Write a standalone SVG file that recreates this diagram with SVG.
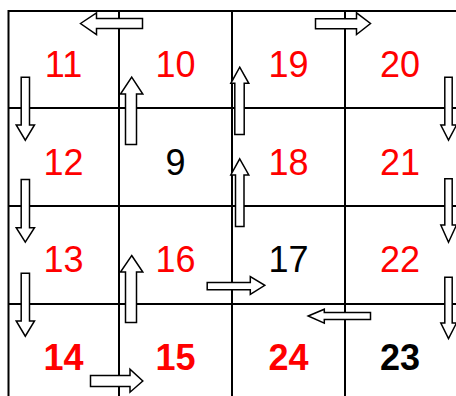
<svg xmlns="http://www.w3.org/2000/svg" width="456" height="396" viewBox="0 0 456 396">
<style>
.grid line{stroke:#000;stroke-width:2}
.n{font-family:"Liberation Sans",Arial,sans-serif;font-size:36px;text-anchor:middle}
.r{fill:#ff0000}
.k{fill:#000}
.b{font-weight:bold}
.arr polygon{fill:#fff;stroke:#000;stroke-width:1.5;stroke-linejoin:miter}
</style>
<rect width="456" height="396" fill="#fff"/>
<g class="grid" id="grid">
<line x1="8" y1="11" x2="456" y2="11"/>
<line x1="8" y1="108" x2="456" y2="108"/>
<line x1="8" y1="206" x2="456" y2="206"/>
<line x1="8" y1="304" x2="456" y2="304"/>
<line x1="8.5" y1="10" x2="8.5" y2="396"/>
<line x1="119" y1="10" x2="119" y2="396"/>
<line x1="232" y1="10" x2="232" y2="396"/>
<line x1="345" y1="10" x2="345" y2="396"/>
</g>
<g id="n11"><text class="n r" x="63.5" y="76.5">11</text></g>
<g id="n10"><text class="n r" x="175.5" y="76.5">10</text></g>
<g id="n19"><text class="n r" x="288.5" y="76.5">19</text></g>
<g id="n20"><text class="n r" x="400" y="76.5">20</text></g>
<g id="n12"><text class="n r" x="63.5" y="175">12</text></g>
<g id="n9"><text class="n k" x="175.5" y="175">9</text></g>
<g id="n18"><text class="n r" x="288.5" y="175">18</text></g>
<g id="n21"><text class="n r" x="400" y="175">21</text></g>
<g id="n13"><text class="n r" x="63.5" y="272">13</text></g>
<g id="n16"><text class="n r" x="175.5" y="272">16</text></g>
<g id="n17"><text class="n k" x="288.5" y="272">17</text></g>
<g id="n22"><text class="n r" x="400" y="272">22</text></g>
<g id="n14"><text class="n r b" x="63.5" y="370">14</text></g>
<g id="n15"><text class="n r b" x="175.5" y="370">15</text></g>
<g id="n24"><text class="n r b" x="288.5" y="370">24</text></g>
<g id="n23"><text class="n k b" x="400" y="370">23</text></g>
<g class="arr" id="connectors">
<polygon points="80.5,23.5 96.5,12.8 96.5,18.5 142.5,18.5 142.5,28.5 96.5,28.5 96.5,34.5"/>
<polygon points="315.5,18.8 356.5,18.8 356.5,12.8 370.5,23.5 356.5,34.5 356.5,28.8 315.5,28.8"/>
<polygon points="21.2,77.2 29.5,77.2 29.5,125 34.5,125 25.3,140.2 16.2,125 21.2,125"/>
<polygon points="21.2,179.5 29.5,179.5 29.5,227.7 34.5,227.7 25.3,242.2 16.2,227.7 21.2,227.7"/>
<polygon points="21.2,273.2 29.5,273.2 29.5,321 34.5,321 25.3,336.2 16.2,321 21.2,321"/>
<polygon points="444.8,77.2 452.2,77.2 452.2,125 456.5,125 448.5,140.2 440.8,125 444.8,125"/>
<polygon points="444.8,178.8 452.2,178.8 452.2,225 456.5,225 448.5,242.2 440.8,225 444.8,225"/>
<polygon points="444.8,277.2 452.2,277.2 452.2,323 456.5,323 448.5,338.5 440.8,323 444.8,323"/>
<polygon points="131.7,77.2 142.8,94 136.5,94 136.5,144.5 125.5,144.5 125.5,94 120.5,94"/>
<polygon points="131.7,255.5 142.8,272 136.5,272 136.5,322.5 125.5,322.5 125.5,272 120.5,272"/>
<polygon points="239.7,67.2 248.8,83.3 244.2,83.3 244.2,134.5 234.8,134.5 234.8,83.3 230.8,83.3"/>
<polygon points="239.7,158.8 248.8,175 244,175 244,226.5 235.5,226.5 235.5,175 230.8,175"/>
<polygon points="207.2,282.5 250.3,282.5 250.3,276.5 264.8,285.3 250.3,294.5 250.3,289.8 207.2,289.8"/>
<polygon points="308.2,316 324.3,309.2 324.3,312.5 370.5,312.5 370.5,319.5 324.3,319.5 324.3,323.2"/>
<polygon points="90.5,375.5 130,375.5 130,369.2 142.8,381 130,392.2 130,386.5 90.5,386.5"/>
</g>
</svg>
